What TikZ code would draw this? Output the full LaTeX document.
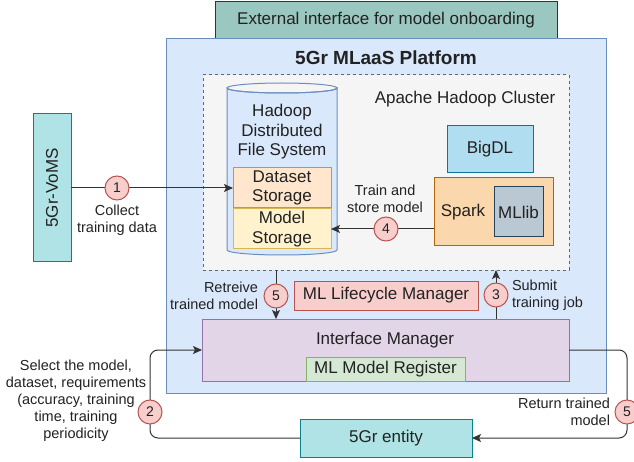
\documentclass[tikz,border=0pt]{standalone}
\usepackage{fontspec}
\setmainfont{Liberation Sans}
\usetikzlibrary{arrows.meta}
\definecolor{txt}{HTML}{222222}
\definecolor{ln}{HTML}{333333}
\definecolor{extfill}{HTML}{9AC7BF}
\definecolor{blueline}{HTML}{6C8EBF}
\definecolor{bluefill}{HTML}{DAE8FC}
\definecolor{grayfill}{HTML}{F5F5F5}
\definecolor{orline}{HTML}{D79B00}
\definecolor{orfill}{HTML}{FFE6CC}
\definecolor{yeline}{HTML}{D6B656}
\definecolor{yefill}{HTML}{FFF2CC}
\definecolor{bdline}{HTML}{10739E}
\definecolor{bdfill}{HTML}{B1DDF0}
\definecolor{spline}{HTML}{B46504}
\definecolor{spfill}{HTML}{FAD7AC}
\definecolor{mlline}{HTML}{23445D}
\definecolor{mlfill}{HTML}{BAC8D3}
\definecolor{tealline}{HTML}{0E8088}
\definecolor{tealfill}{HTML}{B0E3E6}
\definecolor{redline}{HTML}{B85450}
\definecolor{redfill}{HTML}{F8CECC}
\definecolor{puline}{HTML}{9673A6}
\definecolor{pufill}{HTML}{E1D5E7}
\definecolor{grline}{HTML}{82B366}
\definecolor{grfill}{HTML}{D5E8D4}
\begin{document}
\begin{tikzpicture}[x=1pt,y=-1pt,
  every node/.style={inner sep=0pt,outer sep=0pt,text=txt},
  box/.style={draw=#1,line width=1pt},
  big/.style={font=\fontsize{17}{19.5}\selectfont},
  small/.style={font=\fontsize{14.5}{17}\selectfont},
  num/.style={circle,draw=redline,fill=redfill,line width=1pt,minimum size=24pt,font=\fontsize{14}{16}\selectfont},
  arr/.style={draw=ln,line width=1pt,-{Stealth[length=9pt,width=8pt,inset=2pt]}},
]
\useasboundingbox (0,0) rectangle (634,462);
\fill[white] (0,0) rectangle (634,462);

% external interface
\node[box=ln,fill=extfill,minimum width=342pt,minimum height=37pt,big] (ext) at (386,20.5) {External interface for model onboarding};

% platform
\node[box=blueline,fill=bluefill,minimum width=440pt,minimum height=354pt] (plat) at (386,216) {};
\node[font=\fontsize{19}{22}\selectfont\bfseries] (plattitle) at (386,58) {5Gr MLaaS Platform};

% hadoop cluster
\node[draw=gray!80!black,dashed,fill=grayfill,line width=1pt,minimum width=366pt,minimum height=195pt] (cluster) at (386,172.5) {};
\node[big] (clusterlabel) at (465,99) {Apache Hadoop Cluster};

% cylinder HDFS
\path[draw=blueline,fill=bluefill,line width=1pt]
  (227,88) -- (227,250) arc[start angle=180,end angle=0,x radius=55,y radius=5] -- (337,88)
  arc[start angle=0,end angle=180,x radius=55,y radius=5] -- cycle;
\draw[draw=blueline,line width=1pt] (282,88) ellipse[x radius=55,y radius=5];
\node[big,align=center] (hdfs) at (282,132) {Hadoop\\Distributed\\File System};

\node[box=orline,fill=orfill,minimum width=98pt,minimum height=40pt,big,align=center] (dataset) at (282,188) {Dataset\\Storage};
\node[box=yeline,fill=yefill,minimum width=98pt,minimum height=40pt,big,align=center] (model) at (282,229) {Model\\Storage};

% BigDL / Spark / MLlib
\node[box=bdline,fill=bdfill,minimum width=86pt,minimum height=47pt,big] (bigdl) at (490,149.5) {BigDL};
\node[box=spline,fill=spfill,minimum width=119pt,minimum height=68pt] (spark) at (493.5,212) {};
\node[big] (sparklabel) at (463,212) {Spark};
\node[box=mlline,fill=mlfill,minimum width=49pt,minimum height=50pt,big] (mllib) at (518.5,212) {MLlib};

% 5Gr-VoMS
\node[box=tealline,fill=tealfill,minimum width=38pt,minimum height=148pt] (voms) at (52,188) {};
\node[big,rotate=90] (vomslabel) at (52,188) {5Gr-VoMS};

% managers
\node[box=redline,fill=redfill,minimum width=184pt,minimum height=29pt,big] (lcm) at (386,295.5) {ML Lifecycle Manager};
\node[box=puline,fill=pufill,minimum width=367pt,minimum height=62pt] (iface) at (385.5,350) {};
\node[big] (ifacelabel) at (385,340) {Interface Manager};
\node[box=grline,fill=grfill,minimum width=159pt,minimum height=24pt,big] (reg) at (385.5,369) {ML Model Register};

% 5Gr entity
\node[box=tealline,fill=tealfill,minimum width=172pt,minimum height=38pt,big] (entity) at (386,438) {5Gr entity};

% step circles positions
\coordinate (p1) at (117,188);
\coordinate (p4) at (386,229);
\coordinate (p5a) at (276,296);
\coordinate (p3) at (496,295);
\coordinate (p2) at (150,412);
\coordinate (p5b) at (627,412);

% connectors
\draw[arr] (voms.east |- dataset.west) -- (dataset.west);
\draw[arr] (spark.west |- model.east) -- (model.east);
\draw[arr] (cluster.south -| p5a) -- (iface.north -| p5a);
\draw[arr] (iface.north -| p3) -- (cluster.south -| p3);
\draw[arr,rounded corners=8pt] (entity.west) -| (p2) |- (iface.west);
\draw[arr,rounded corners=8pt] (iface.east) -| (p5b) |- (entity.east);

% circles
\node[num] (n1) at (p1) {1};
\node[num] (n4) at (p4) {4};
\node[num] (n5a) at (p5a) {5};
\node[num] (n3) at (p3) {3};
\node[num] (n2) at (p2) {2};
\node[num] (n5b) at (p5b) {5};

% labels
\node[small,align=center] (l1) at (117,220.5) {Collect\\training data};
\node[small,align=center] (l4) at (385,198.5) {Train and\\store model};
\node[small,align=right,anchor=east] (l5a) at (258,295.5) {Retreive\\trained model};
\node[small,align=left,anchor=west] (l3) at (512,295.5) {Submit\\training job};
\node[small,align=center] (l2) at (76,401) {Select the model,\\dataset, requirements\\(accuracy, training\\time, training\\periodicity};
\node[small,align=right,anchor=east] (l5b) at (610,411.5) {Return trained\\model};
\end{tikzpicture}
\end{document}
